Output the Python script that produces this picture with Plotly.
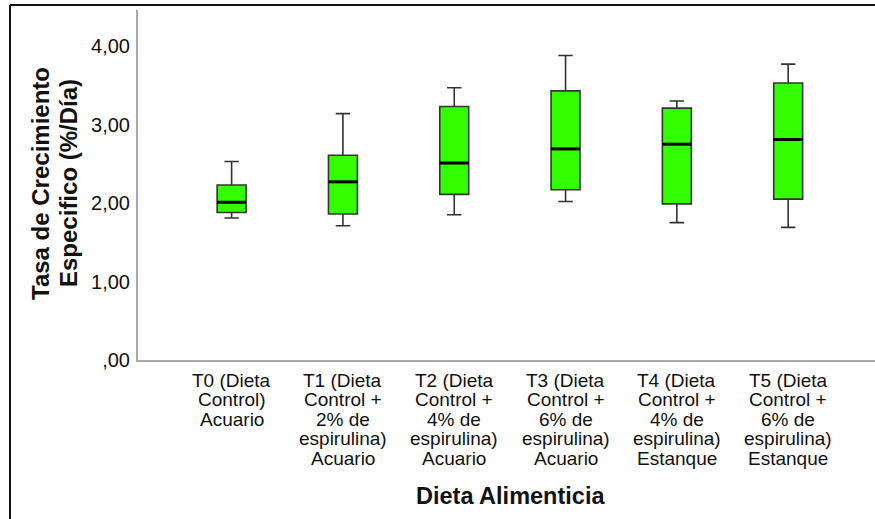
import plotly.graph_objects as go

# Dietary treatments (x categories), one entry per text line
categories = [
    ["T0 (Dieta", "Control)", "Acuario"],
    ["T1 (Dieta", "Control +", "2% de", "espirulina)", "Acuario"],
    ["T2 (Dieta", "Control +", "4% de", "espirulina)", "Acuario"],
    ["T3 (Dieta", "Control +", "6% de", "espirulina)", "Acuario"],
    ["T4 (Dieta", "Control +", "4% de", "espirulina)", "Estanque"],
    ["T5 (Dieta", "Control +", "6% de", "espirulina)", "Estanque"],
]

# Box-plot statistics of specific growth rate (%/day)
lower_whisker = [1.81, 1.71, 1.85, 2.02, 1.75, 1.69]
q1 = [1.88, 1.86, 2.11, 2.17, 1.99, 2.05]
median = [2.01, 2.27, 2.51, 2.69, 2.75, 2.81]
q3 = [2.23, 2.61, 3.23, 3.43, 3.21, 3.53]
upper_whisker = [2.53, 3.14, 3.47, 3.88, 3.30, 3.77]

y_tickvals = [0, 1, 2, 3, 4]
y_ticktext = [",00", "1,00", "2,00", "3,00", "4,00"]

x_title = "Dieta Alimenticia"
y_title_lines = ["Tasa de Crecimiento", "Especifico (%/Día)"]

positions = list(range(len(categories)))
box_width = 0.26
font_family = "Liberation Sans, Arial, sans-serif"
text_color = "#111111"

# Plot-area geometry in pixels (used to place the free-standing labels)
L, T, W, H = 138, 10, 737, 350
FIG_W, FIG_H = 875, 519


def px_x(p):
    return (p - L) / W


def px_y(p):
    return 1 - (p - T) / H


fig = go.Figure()
fig.add_trace(go.Box(
    x=positions,
    q1=q1,
    median=median,
    q3=q3,
    lowerfence=lower_whisker,
    upperfence=upper_whisker,
    width=box_width,
    whiskerwidth=0.5,
    fillcolor="#33ff00",
    line=dict(color="#333333", width=1.6),
    boxpoints=False,
    showlegend=False,
    hoverinfo="skip",
))

shapes = []
# Thick median bars
for xi, m in zip(positions, median):
    shapes.append(dict(
        type="line", xref="x", yref="y",
        x0=xi - box_width / 2, x1=xi + box_width / 2, y0=m, y1=m,
        line=dict(color="black", width=3),
    ))
# Outer frame lines (top and left)
shapes.append(dict(type="line", xref="paper", yref="paper",
                   x0=px_x(10), x1=px_x(FIG_W + 10), y0=px_y(5), y1=px_y(5),
                   line=dict(color="#111111", width=2)))
shapes.append(dict(type="line", xref="paper", yref="paper",
                   x0=px_x(10), x1=px_x(10), y0=px_y(5), y1=px_y(FIG_H + 10),
                   line=dict(color="#111111", width=2)))

annotations = []
# Category labels, stacked line by line under each box
line_step = 19.5
for xi, lines in zip(positions, categories):
    for i, txt in enumerate(lines):
        annotations.append(dict(
            text=txt, x=xi, xref="x", y=0, yref="paper",
            xanchor="center", yanchor="middle",
            yshift=-(20 + i * line_step), showarrow=False,
            font=dict(size=19, color=text_color, family=font_family),
        ))
# X axis title
annotations.append(dict(
    text=f"<b>{x_title}</b>", x=px_x(510), xref="paper", y=px_y(496), yref="paper",
    xanchor="center", yanchor="middle", showarrow=False,
    font=dict(size=23.5, color=text_color, family=font_family),
))
# Y axis title, two rotated lines
for xc, txt in zip([41, 69], y_title_lines):
    annotations.append(dict(
        text=f"<b>{txt}</b>", x=px_x(xc), xref="paper", y=px_y(183), yref="paper",
        xanchor="center", yanchor="middle", textangle=-90, showarrow=False,
        font=dict(size=24, color=text_color, family=font_family),
    ))

fig.update_layout(
    width=FIG_W, height=FIG_H,
    margin=dict(l=L, r=FIG_W - L - W, t=T, b=FIG_H - T - H),
    paper_bgcolor="white",
    plot_bgcolor="white",
    font=dict(family=font_family, color=text_color),
    shapes=shapes,
    annotations=annotations,
    xaxis=dict(
        range=[-0.841, 5.78],
        tickvals=positions,
        showticklabels=False,
        showgrid=False,
        zeroline=False,
        showline=True,
        linecolor="#a8a8a8",
        linewidth=2,
        ticks="",
    ),
    yaxis=dict(
        range=[0, 4.46],
        tickvals=y_tickvals,
        ticktext=y_ticktext,
        tickfont=dict(size=20, color=text_color),
        showgrid=False,
        zeroline=False,
        showline=True,
        linecolor="#a8a8a8",
        linewidth=2,
        ticks="",
        ticklabelstandoff=2,
    ),
)

fig.write_html("out.html")
